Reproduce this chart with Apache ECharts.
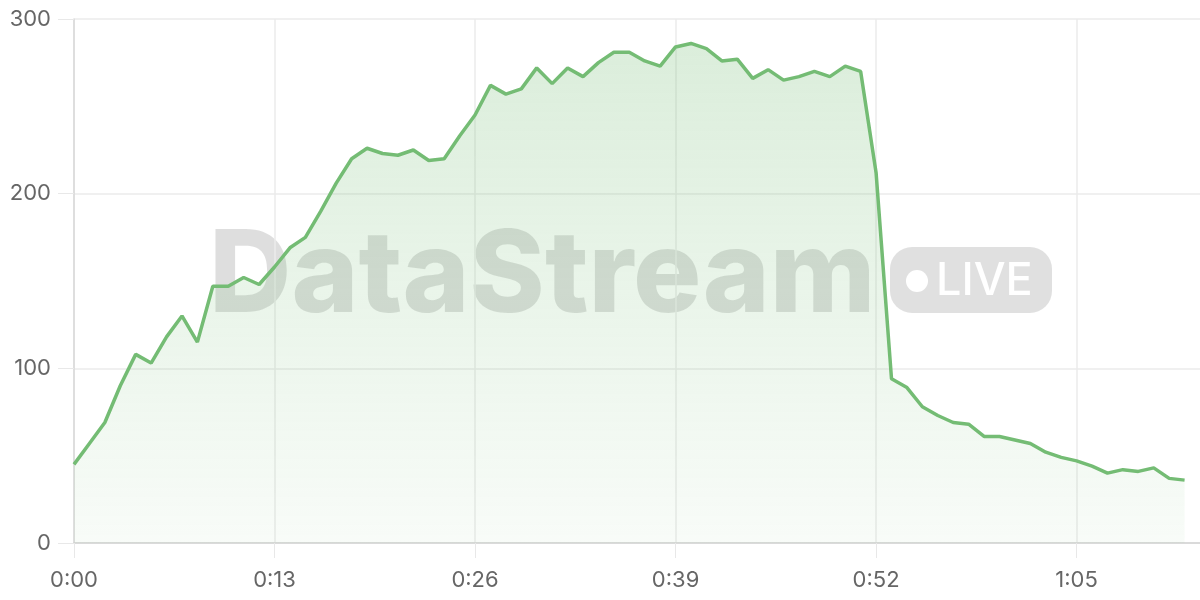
<!DOCTYPE html>
<html>
<head>
<meta charset="utf-8">
<title>DataStream</title>
<script src="https://cdn.jsdelivr.net/npm/echarts@6/dist/echarts.min.js"></script>
<style>
    html, body { margin: 0; padding: 0; background: #fff; }
    #chart { width: 1200px; height: 600px; }
</style>
</head>
<body>
<div id="chart"></div>
<script>
// 每秒一个采样点
var values = [
    45, 57, 69, 90, 108, 103, 118, 130, 115, 147,
    147, 152, 148, 158, 169, 175, 190, 206, 220, 226,
    223, 222, 225, 219, 220, 233, 245, 262, 257, 260,
    272, 263, 272, 267, 275, 281, 281, 276, 273, 284,
    286, 283, 276, 277, 266, 271, 265, 267, 270, 267,
    273, 270, 212, 94, 89, 78, 73, 69, 68, 61,
    61, 59, 57, 52, 49, 47, 44, 40, 42, 41,
    43, 37, 36
];
var yTicks = [0, 100, 200, 300];
var axisSeconds = 74; // 0:00 ~ 1:13

function fmt(sec) {
    var m = Math.floor(sec / 60), s = sec % 60;
    return m + ':' + (s < 10 ? '0' + s : s);
}
var categories = [];
for (var k = 0; k < axisSeconds; k++) {
    categories.push(fmt(k));
}

var labelFont = 'Inter, "Noto Sans", sans-serif';
var myChart = echarts.init(document.getElementById('chart'));
var myOption = {
    animation: false,
    grid: {left: 74, right: 0, top: 19, bottom: 57},
    xAxis: {
        type: 'category',
        boundaryGap: false,
        data: categories,
        axisLine: {lineStyle: {color: '#d2d2d2', width: 1.5}},
        axisTick: {show: true, interval: 12, length: 15, lineStyle: {color: '#e8e8e8'}},
        axisLabel: {interval: 12, margin: 26, fontSize: 22, color: '#666', fontFamily: labelFont},
        splitLine: {show: true, interval: 12, lineStyle: {color: '#ebebeb', width: 1.5}}
    },
    yAxis: {
        type: 'value',
        min: yTicks[0],
        max: yTicks[yTicks.length - 1],
        interval: 100,
        axisLine: {show: true, lineStyle: {color: '#d9d9d9', width: 1.5}},
        axisTick: {show: true, length: 16, lineStyle: {color: '#e8e8e8'}},
        axisLabel: {margin: 23, fontSize: 22, color: '#666', fontFamily: labelFont},
        splitLine: {lineStyle: {color: '#ebebeb', width: 1.5}}
    },
    graphic: [
        {
            type: 'text',
            z: 0,
            left: 209,
            top: 221,
            style: {
                text: 'DataStream',
                font: '800 114px Inter, sans-serif',
                fill: 'rgba(0, 0, 0, 0.13)'
            }
        },
        {
            type: 'rect',
            z: 0,
            shape: {x: 890, y: 247, width: 162, height: 66, r: 22},
            style: {fill: 'rgba(0, 0, 0, 0.12)'}
        },
        {
            type: 'circle',
            z: 0,
            shape: {cx: 917, cy: 281, r: 11},
            style: {fill: '#fff'}
        },
        {
            type: 'text',
            z: 0,
            left: 936,
            top: 259,
            style: {
                text: 'LIVE',
                font: '500 45px Inter, sans-serif',
                fill: '#fff'
            }
        }
    ],
    series: [{
        type: 'line',
        data: values,
        showSymbol: false,
        symbol: 'none',
        z: 3,
        lineStyle: {color: '#74bc74', width: 3.5},
        areaStyle: {
            color: new echarts.graphic.LinearGradient(0, 0, 0, 1, [
                {offset: 0, color: 'rgba(116, 188, 116, 0.37)'},
                {offset: 1, color: 'rgba(116, 188, 116, 0.07)'}
            ])
        }
    }]
};
myChart.setOption(myOption);
</script>
</body>
</html>
